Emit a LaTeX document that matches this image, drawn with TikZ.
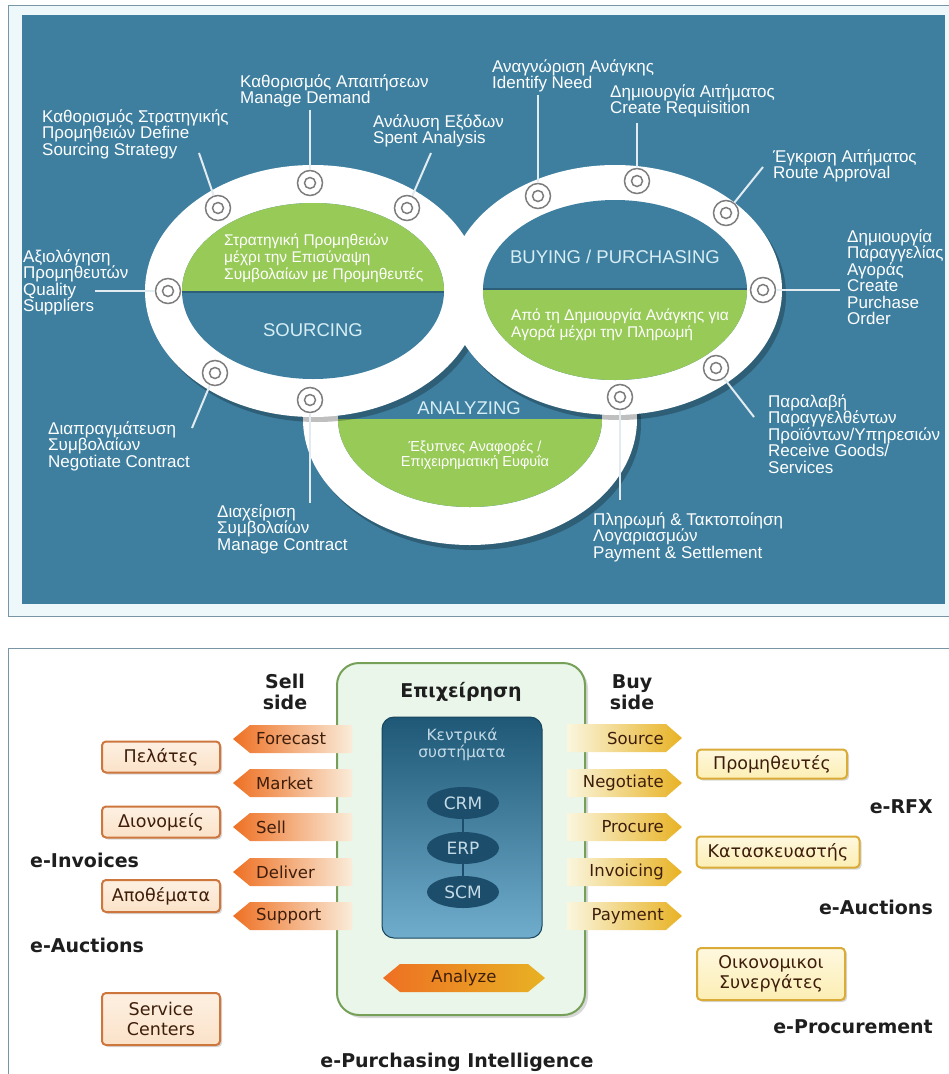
\documentclass[tikz,border=0pt]{standalone}
\usepackage{fontspec}
\setmainfont{Liberation Sans}
\newfontfamily\dvs{DejaVu Sans}
\usetikzlibrary{shadows,shapes.geometric}
\definecolor{panelblue}{RGB}{62,127,160}
\definecolor{ringgreen}{RGB}{152,202,88}
\definecolor{framefill}{RGB}{238,248,250}
\definecolor{frameline}{RGB}{120,150,165}
\definecolor{markgray}{RGB}{125,125,125}
\definecolor{leadcol}{RGB}{225,235,240}
\definecolor{capcol}{RGB}{215,238,245}
\definecolor{orangeA}{RGB}{238,112,35}
\definecolor{orangeB}{RGB}{250,236,218}
\definecolor{goldA}{RGB}{232,178,35}
\definecolor{goldB}{RGB}{250,246,222}
\definecolor{midA}{RGB}{248,190,110}
\definecolor{mintfill}{RGB}{233,246,233}
\definecolor{mintline}{RGB}{118,160,88}
\definecolor{coreTop}{RGB}{30,88,118}
\definecolor{coreBot}{RGB}{112,172,204}
\definecolor{ellcol}{RGB}{28,78,108}
\definecolor{elltext}{RGB}{195,218,230}
\definecolor{brownT}{RGB}{62,30,10}
\definecolor{peachfill}{RGB}{251,226,200}
\definecolor{peachtop}{RGB}{253,240,226}
\definecolor{peachline}{RGB}{205,118,62}
\definecolor{yelfill}{RGB}{252,238,180}
\definecolor{yeltop}{RGB}{254,248,222}
\definecolor{yelline}{RGB}{218,172,55}
\definecolor{darkT}{RGB}{30,30,30}
\newcommand\sellarrow[3]{%
  \shade[left color=orangeA, right color=orangeB] (233,#1) -- (250,{#1-14}) -- (352,{#1-14}) -- (352,{#1+14}) -- (250,{#1+14}) -- cycle;
  \node[arrtext, anchor=west] (#2) at (256,#1) {#3};}
\newcommand\buyarrow[3]{%
  \shade[left color=goldB, right color=goldA] (567,{#1-14}) -- (666,{#1-14}) -- (682,#1) -- (666,{#1+14}) -- (567,{#1+14}) -- cycle;
  \node[arrtext, anchor=east] (#2) at (664,#1) {#3};}
\begin{document}
\begin{tikzpicture}[x=1pt,y=-1pt,
  lab/.style={text=white, font={\fontsize{17}{16.5}\selectfont}, align=left, inner sep=0pt, anchor=north west},
  captext/.style={text=capcol, font={\fontsize{18.5}{20}\selectfont}, inner sep=0pt},
  greentext/.style={text=white, font={\fontsize{15.5}{17}\selectfont}, align=left, inner sep=0pt},
  leader/.style={leadcol, line width=2pt},
  marker/.style={circle, draw=markgray, line width=1.5pt, fill=white, minimum size=25pt, inner sep=0pt,
    path picture={\draw[markgray, line width=1.5pt] (path picture bounding box.center) circle[radius=5.5pt];}},
  arrtext/.style={text=brownT, font={\dvs\fontsize{16.5}{17}\selectfont}, inner sep=0pt},
  boldlab/.style={text=darkT, font={\dvs\bfseries\fontsize{19}{21}\selectfont}, inner sep=0pt, align=center},
  peachbox/.style={draw=peachline, line width=2pt, rounded corners=4pt, top color=peachtop, bottom color=peachfill,
    text=brownT, font={\dvs\fontsize{17.5}{19.5}\selectfont}, align=center, inner sep=0pt,
    drop shadow={opacity=0.3, shadow xshift=2pt, shadow yshift=-2pt}},
  yelbox/.style={draw=yelline, line width=2pt, rounded corners=4pt, top color=yeltop, bottom color=yelfill,
    text=brownT, font={\dvs\fontsize{17.5}{19.5}\selectfont}, align=center, inner sep=0pt,
    drop shadow={opacity=0.3, shadow xshift=2pt, shadow yshift=-2pt}},
  sysell/.style={ellipse, fill=ellcol, minimum width=72pt, minimum height=32pt, inner sep=0pt,
    text=elltext, font={\dvs\fontsize{17}{18}\selectfont}}
]
\useasboundingbox (0,0) rectangle (949,1074);
\fill[white] (0,0) rectangle (949,1074);

% ---------------- top panel ----------------
\draw[frameline, fill=framefill, line width=1pt] (8,5) rectangle (965,616);
\fill[panelblue] (22,15) rectangle (945,604);

% analyzing ring (beneath)
\fill[black, opacity=0.25] (474,424) ellipse [x radius=167, y radius=126];
\fill[white] (470,419) ellipse [x radius=167, y radius=126];
\fill[panelblue] (470,419) ellipse [x radius=132, y radius=88];
\begin{scope}
  \clip (300,419) rectangle (640,520);
  \fill[ringgreen] (470,419) ellipse [x radius=132, y radius=88];
\end{scope}

% sourcing & buying rings
\fill[black, opacity=0.25] (317,296) ellipse [x radius=168, y radius=126];
\fill[black, opacity=0.25] (619,295) ellipse [x radius=167, y radius=125];
\fill[white] (313,291) ellipse [x radius=168, y radius=126];
\fill[white] (615,290) ellipse [x radius=167, y radius=125];
\fill[panelblue] (313,291) ellipse [x radius=131, y radius=88];
\fill[panelblue] (615,290) ellipse [x radius=132, y radius=90];
\begin{scope}
  \clip (170,195) rectangle (460,291);
  \fill[ringgreen] (313,291) ellipse [x radius=131, y radius=88];
\end{scope}
\begin{scope}
  \clip (470,290) rectangle (760,390);
  \fill[ringgreen] (615,290) ellipse [x radius=132, y radius=90];
\end{scope}
\draw[panelblue!75!black, line width=2pt] (182,292) -- (444,292);
\draw[panelblue!75!black, line width=1.5pt] (483,289) -- (747,289);

% texts inside rings
\node[captext] (src) at (313,330) {SOURCING};
\node[captext] (buy) at (615,257) {BUYING / PURCHASING};
\node[captext] (ana) at (469,408) {ANALYZING};
\node[greentext, anchor=north west] (srcg) at (224,234) {Στρατηγική Προμηθειών\\μέχρι την Επισύναψη\\Συμβολαίων με Προμηθευτές};
\node[greentext, anchor=north west] (buyg) at (511,309) {Από τη Δημιουργία Ανάγκης για\\Αγορά μέχρι την Πληρωμή};
\node[greentext, align=center, font={\fontsize{14.5}{15}\selectfont}] (anag) at (475,455) {Έξυπνες Αναφορές /\\Επιχειρηματική Ευφυΐα};

% markers
\node[marker] (m1) at (218,208) {};
\node[marker] (m2) at (310,183) {};
\node[marker] (m3) at (407,208) {};
\node[marker] (m4) at (168,291) {};
\node[marker] (m5) at (215,373) {};
\node[marker] (m6) at (310,400) {};
\node[marker] (m7) at (538,196) {};
\node[marker] (m8) at (637,181) {};
\node[marker] (m9) at (726,213) {};
\node[marker] (m10) at (763,290) {};
\node[marker] (m11) at (716,368) {};
\node[marker] (m12) at (620,397) {};

% leader ends
\coordinate (c1) at (199,153);
\coordinate (c2) at (310,110);
\coordinate (c3) at (431,153);
\coordinate (c4) at (95,291);
\coordinate (c5) at (192,428);
\coordinate (c6) at (310,503);
\coordinate (c7) at (538,95);
\coordinate (c8) at (637,123);
\coordinate (c9) at (763,167);
\coordinate (c10) at (840,290);
\coordinate (c11) at (754,417);
\coordinate (c12) at (620,500);
\foreach \i in {1,...,12} {\draw[leader] (m\i) -- (c\i);}

% labels
\node[lab] (t1) at (42,109) {Καθορισμός Στρατηγικής\\Προμηθειών Define\\Sourcing Strategy};
\node[lab] (t2) at (240,74) {Καθορισμός Απαιτήσεων\\Manage Demand};
\node[lab] (t3) at (373,114) {Ανάλυση Εξόδων\\Spent Analysis};
\node[lab] (t4) at (23,249) {Αξιολόγηση\\Προμηθευτών\\Quality\\Suppliers};
\node[lab] (t5) at (48,421) {Διαπραγμάτευση\\Συμβολαίων\\Negotiate Contract};
\node[lab] (t6) at (217,504) {Διαχείριση\\Συμβολαίων\\Manage Contract};
\node[lab] (t7) at (492,59) {Αναγνώριση Ανάγκης\\Identify Need};
\node[lab] (t8) at (610,84) {Δημιουργία Αιτήματος\\Create Requisition};
\node[lab] (t9) at (773,149) {Έγκριση Αιτήματος\\Route Approval};
\node[lab] (t10) at (847,229) {Δημιουργία\\Παραγγελίας\\Αγοράς\\Create\\Purchase\\Order};
\node[lab] (t11) at (768,394) {Παραλαβή\\Παραγγελθέντων\\Προϊόντων/Υπηρεσιών\\Receive Goods/\\Services};
\node[lab] (t12) at (593,512) {Πληρωμή \& Τακτοποίηση\\Λογαριασμών\\Payment \& Settlement};

% ---------------- bottom panel ----------------
\draw[frameline, line width=1pt] (8,1090) -- (8,648) -- (965,648);

\node[draw=mintline, fill=mintfill, line width=2pt, rounded corners=22pt, minimum width=248pt, minimum height=352pt,
  drop shadow={opacity=0.3, shadow xshift=3pt, shadow yshift=-3pt}] (biz) at (461,839) {};
\node[boldlab] (bizt) at (461,692) {Επιχείρηση};
\node[rounded corners=12pt, top color=coreTop, bottom color=coreBot, draw=coreTop!80!black, line width=1pt,
  minimum width=160pt, minimum height=221pt] (core) at (462,827.5) {};
\node[text=elltext, font={\dvs\fontsize{15.5}{17}\selectfont}, align=center, inner sep=0pt] (coret) at (462,744) {Κεντρικά\\συστήματα};
\node[sysell] (crm) at (463,803) {CRM};
\node[sysell] (erp) at (463,848) {ERP};
\node[sysell] (scm) at (463,892) {SCM};
\draw[ellcol, line width=2pt] (crm) -- (erp);
\draw[ellcol, line width=2pt] (erp) -- (scm);

\node[boldlab] (sellh) at (285,692) {Sell\\side};
\node[boldlab] (buyh) at (632,692) {Buy\\side};

\sellarrow{739}{fc}{Forecast}
\sellarrow{783}{mk}{Market}
\sellarrow{827}{sl}{Sell}
\sellarrow{872}{dl}{Deliver}
\sellarrow{916}{sp}{Support}
\buyarrow{738}{so}{Source}
\buyarrow{783}{ng}{Negotiate}
\buyarrow{827}{pr}{Procure}
\buyarrow{872}{iv}{Invoicing}
\buyarrow{916}{pm}{Payment}
\shade[left color=orangeA, middle color=midA, right color=goldA] (383,978) -- (400,964) -- (528,964) -- (545,978) -- (528,992) -- (400,992) -- cycle;
\node[arrtext] (anz) at (464,978) {Analyze};

\node[peachbox, minimum width=118pt, minimum height=31pt] (pel) at (161,757) {Πελάτες};
\node[peachbox, minimum width=118pt, minimum height=31pt] (dian) at (161,822) {Διονομείς};
\node[peachbox, minimum width=118pt, minimum height=32pt] (apo) at (161,896) {Αποθέματα};
\node[peachbox, minimum width=118pt, minimum height=52pt] (serv) at (161,1019) {Service\\Centers};

\node[yelbox, minimum width=150pt, minimum height=29pt] (prom) at (772,764) {Προμηθευτές};
\node[yelbox, minimum width=163pt, minimum height=31pt] (kat) at (778,852) {Κατασκευαστής};
\node[yelbox, minimum width=148pt, minimum height=52pt] (oik) at (771,974) {Οικονομικοι\\Συνεργάτες};

\node[boldlab, anchor=west] (einv) at (30,860) {e-Invoices};
\node[boldlab, anchor=west] (eauc1) at (30,945) {e-Auctions};
\node[boldlab, anchor=east] (erfx) at (933,807) {e-RFX};
\node[boldlab, anchor=east] (eauc2) at (933,907) {e-Auctions};
\node[boldlab, anchor=east] (eproc) at (933,1027) {e-Procurement};
\node[boldlab] (epi) at (457,1062) {e-Purchasing Intelligence};
\end{tikzpicture}
\end{document}
